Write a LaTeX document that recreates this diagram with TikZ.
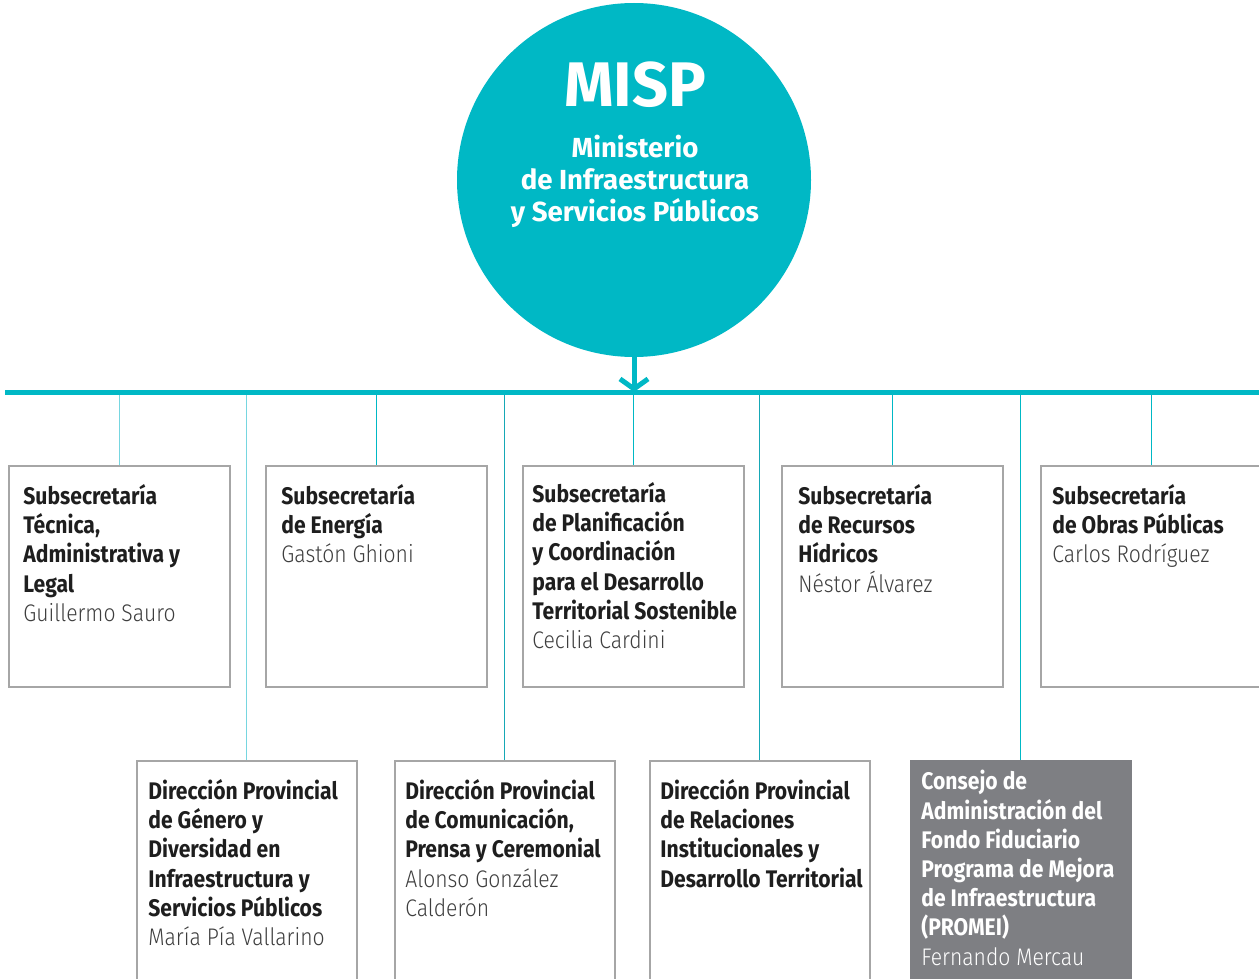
\documentclass[tikz,border=0pt]{standalone}
\usepackage{fontspec}
\setmainfont{Fira Sans}[FakeStretch=0.88]
\newfontfamily\lightfont{Fira Sans Light}[FakeStretch=0.88]
\newfontfamily\widefont{Fira Sans}
\usetikzlibrary{arrows.meta}

\definecolor{mispteal}{RGB}{0,184,197}
\definecolor{linklight}{RGB}{118,214,224}
\definecolor{linkdark}{RGB}{22,168,182}
\definecolor{boxline}{RGB}{166,166,166}
\definecolor{boxgrey}{RGB}{126,127,131}
\definecolor{titletext}{RGB}{30,30,30}
\definecolor{nametext}{RGB}{62,62,62}

\newcommand{\person}[1]{{\lightfont\mdseries\color{nametext}#1}}

\tikzset{
    subbox/.style={draw=boxline, line width=0.75pt, minimum width=110.5pt,
        minimum height=110.5pt, anchor=north west, inner sep=0pt},
    dirbox/.style={subbox, minimum width=110pt, minimum height=120pt},
    boxtext/.style={anchor=north west, inner sep=0pt, align=left,
        font=\bfseries\fontsize{12}{14.6}\selectfont, text=titletext},
    link/.style={line width=0.6pt, draw=mispteal},
}

\begin{document}
\begin{tikzpicture}[x=0.5pt, y=-0.5pt]
    \clip (0,0) rectangle (1259,979);

    % ministerio
    \node[circle, fill=mispteal, minimum size=177pt, inner sep=0pt] (misp) at (634,180) {};
    \node[font=\widefont\bfseries\fontsize{31.5}{33}\selectfont, text=white, inner sep=0pt] (mispname) at (635,85) {MISP};
    \node[font=\widefont\bfseries\fontsize{13.8}{16}\selectfont, text=white, align=center, inner sep=0pt]
        (misptitle) at (635,181) {Ministerio\\de Infraestructura\\y Servicios Públicos};

    % cajas
    \node[subbox] (sub1) at (8,465) {};
    \node[subbox] (sub2) at (265,465) {};
    \node[subbox] (sub3) at (522,465) {};
    \node[subbox] (sub4) at (781,465) {};
    \node[subbox] (sub5) at (1040,465) {};
    \node[dirbox] (dir1) at (136,760) {};
    \node[dirbox] (dir2) at (394,760) {};
    \node[dirbox] (dir3) at (649,760) {};
    \node[dirbox, fill=boxgrey, draw=boxgrey] (dir4) at (910,760) {};

    % barra
    \coordinate (busL) at (5,392);
    \coordinate (busR) at (1259,392);

    \draw[link, draw=linklight] (sub1.north) -- (sub1.north |- busL);
    \draw[link, draw=linklight] (dir1.north) -- (dir1.north |- busL);
    \foreach \b in {sub2,sub3,sub4,sub5,dir4}
        \draw[link] (\b.north) -- (\b.north |- busL);
    \foreach \b in {dir2,dir3}
        \draw[link, draw=linkdark] (\b.north) -- (\b.north |- busL);

    \draw[mispteal, line width=2.5pt] (busL) -- (busR);
    \draw[mispteal, line width=2.5pt, -{Straight Barb[length=5pt, width=14pt]}]
        (misp.south) -- (misp.south |- busL);

    % textos
    \node[boxtext] (txt1) at ([shift={(15,19)}]sub1.north west)
        {Subsecretaría\\Técnica,\\Administrativa y\\Legal\\\person{Guillermo Sauro}};
    \node[boxtext] (txt2) at ([shift={(16,19)}]sub2.north west)
        {Subsecretaría\\de Energía\\\person{Gastón Ghioni}};
    \node[boxtext] (txt3) at ([shift={(10,17)}]sub3.north west)
        {Subsecretaría\\de Planificación\\y Coordinación\\para el Desarrollo\\Territorial Sostenible\\\person{Cecilia Cardini}};
    \node[boxtext] (txt4) at ([shift={(17,19)}]sub4.north west)
        {Subsecretaría\\de Recursos\\Hídricos\\\person{Néstor Álvarez}};
    \node[boxtext] (txt5) at ([shift={(12,19)}]sub5.north west)
        {Subsecretaría\\de Obras Públicas\\\person{Carlos Rodríguez}};
    \node[boxtext] (txt6) at ([shift={(12,19)}]dir1.north west)
        {Dirección Provincial\\de Género y\\Diversidad en\\Infraestructura y\\Servicios Públicos\\\person{María Pía Vallarino}};
    \node[boxtext] (txt7) at ([shift={(11,19)}]dir2.north west)
        {Dirección Provincial\\de Comunicación,\\Prensa y Ceremonial\\\person{Alonso González}\\\person{Calderón}};
    \node[boxtext] (txt8) at ([shift={(11,19)}]dir3.north west)
        {Dirección Provincial\\de Relaciones\\Institucionales y\\Desarrollo Territorial};
    \node[boxtext, text=white] (txt9) at ([shift={(11,10)}]dir4.north west)
        {Consejo de\\Administración del\\Fondo Fiduciario\\Programa de Mejora\\de Infraestructura\\(PROMEI)\\{\lightfont\mdseries Fernando Mercau}};
\end{tikzpicture}
\end{document}
